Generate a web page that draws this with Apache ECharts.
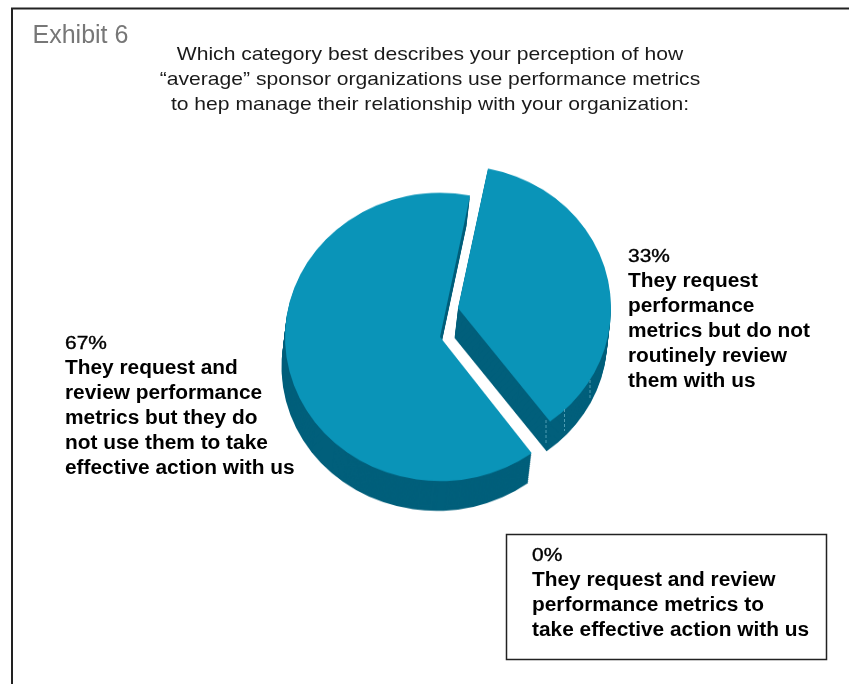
<!DOCTYPE html>
<html>
<head>
<meta charset="utf-8">
<style>
html,body{margin:0;padding:0;background:#fff;width:849px;height:684px;overflow:hidden}
#pie,#text{position:absolute;left:0;top:0;width:849px;height:684px;filter:blur(0.45px)}
/* the reference pie is an ellipse (tilted disc): flatten the pie layer only */
#pie{transform:scaleY(0.93);transform-origin:0 0}
</style>
<script src="https://cdn.jsdelivr.net/npm/echarts@6/dist/echarts.min.js"></script>
</head>
<body>
<div id="pie"></div>
<div id="text"></div>
<script>
const categories = [
  'They request and review performance metrics but they do not use them to take effective action with us',
  'They request performance metrics but do not routinely review them with us',
  'They request and review performance metrics to take effective action with us'
];
const shares = [67, 33, 0];
const exhibitLabel = 'Exhibit 6';
const titleLines = [
  'Which category best describes your perception of how',
  '\u201Caverage\u201D sponsor organizations use performance metrics',
  'to hep manage their relationship with your organization:'
];
const leftLines = ['They request and', 'review performance', 'metrics but they do', 'not use them to take', 'effective action with us'];
const rightLines = ['They request', 'performance', 'metrics but do not', 'routinely review', 'them with us'];
const boxLines = ['They request and review', 'performance metrics to', 'take effective action with us'];

const TOP = '#0a94b8', SIDE = '#015f7b';
const S = 0.93;
const mainSlice = {name: categories[0], value: shares[0], cx: 440, cy: 337 / S, r: 155, from: -53.7, to: -281.2};
const cutSlice  = {name: categories[1], value: shares[1], cx: 458, cy: 308 / S, r: 153, from: 78.7, to: -53};

function layer(sl, dx, dy, color) {
  return {
    type: 'pie', silent: true, animation: false,
    center: [sl.cx + dx, sl.cy + dy], radius: [0, sl.r],
    startAngle: sl.from, endAngle: sl.to, clockwise: true,
    label: {show: false}, labelLine: {show: false},
    data: [{name: sl.name, value: sl.value, itemStyle: {color}}]
  };
}
const series = [];
const DEPTH = 32, SHIFT = -3.5;
for (let i = 16; i >= 1; i--) {
  const t = i / 16;
  series.push(layer(cutSlice, SHIFT * t, DEPTH * t, SIDE));
  series.push(layer(mainSlice, SHIFT * t, DEPTH * t, SIDE));
}
series.push(layer(cutSlice, 0, 0, TOP));
series.push(layer(mainSlice, 0, 0, TOP));
echarts.init(document.getElementById('pie')).setOption({animation: false, series});

const FONT = '"Liberation Sans", Arial, sans-serif';
const g = [];
function txt(s, x, y, o, sx) {
  g.push({type: 'text', x, y, scaleX: sx || 1, silent: true, style: Object.assign({
    text: s, fontFamily: FONT, fontSize: 19.5, fontWeight: 'bold', fill: '#000',
    verticalAlign: 'middle'}, o || {})});
}
function block(pct, lines, x, y) {
  txt(pct + '%', x, y, {fontWeight: 'normal', fontSize: 18.5, stroke: '#000', lineWidth: 0.4}, 1.13);
  lines.forEach((l, i) => txt(l, x, y + 25 * (i + 1), null, 1.07));
}
g.push({type: 'polyline', silent: true, shape: {points: [[12, 684], [12, 8.5], [849, 8.5]]}, style: {stroke: '#222', lineWidth: 2, fill: null}});
txt(exhibitLabel, 32.5, 36, {fontWeight: 'normal', fontSize: 25, fill: '#777'});
titleLines.forEach((l, i) => txt(l, 430, 55 + 25 * i, {fontWeight: 'normal', fontSize: 18.5, align: 'center', fill: '#1a1a1a'}, 1.14));
block(shares[0], leftLines, 65, 344);
block(shares[1], rightLines, 628, 257);
g.push({type: 'rect', silent: true, shape: {x: 506.5, y: 534.5, width: 320, height: 125}, style: {fill: null, stroke: '#222', lineWidth: 1.5}});
block(shares[2], boxLines, 532, 556);
[[546, 420, 445], [564.5, 409, 431], [590, 380, 400]].forEach(p => g.push({
  type: 'line', silent: true, shape: {x1: p[0], y1: p[1], x2: p[0], y2: p[2]},
  style: {stroke: '#4f9db3', lineWidth: 1, lineDash: [3, 2]}
}));
echarts.init(document.getElementById('text')).setOption({animation: false, graphic: {elements: g}});
</script>
</body>
</html>
